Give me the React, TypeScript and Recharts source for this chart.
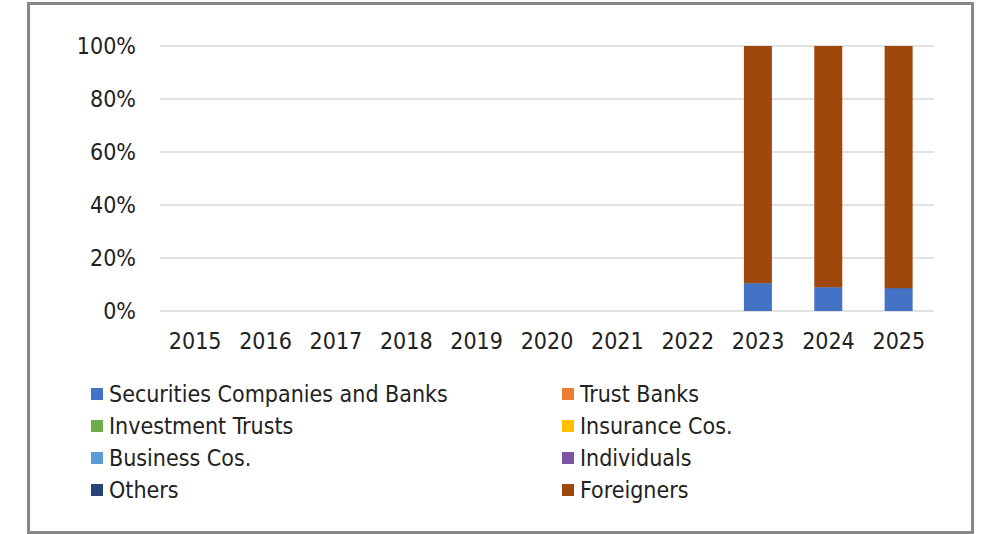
import { BarChart, Bar, XAxis, YAxis, CartesianGrid } from "recharts";

const years = ["2015", "2016", "2017", "2018", "2019", "2020", "2021", "2022", "2023", "2024", "2025"];

// share of each holder type (%), no data before 2023
const securities = [null, null, null, null, null, null, null, null, 10.5, 9.0, 8.4];
const trustBanks = [null, null, null, null, null, null, null, null, 0, 0, 0];
const investmentTrusts = [null, null, null, null, null, null, null, null, 0, 0, 0];
const insurance = [null, null, null, null, null, null, null, null, 0, 0, 0];
const business = [null, null, null, null, null, null, null, null, 0, 0, 0];
const individuals = [null, null, null, null, null, null, null, null, 0, 0, 0];
const others = [null, null, null, null, null, null, null, null, 0, 0, 0.3];
const foreigners = [null, null, null, null, null, null, null, null, 89.5, 91.0, 91.3];

const yTicks = [0, 20, 40, 60, 80, 100];

const series = [
  { key: "securities", name: "Securities Companies and Banks", color: "#4472C4", values: securities },
  { key: "trustBanks", name: "Trust Banks", color: "#ED7D31", values: trustBanks },
  { key: "investmentTrusts", name: "Investment Trusts", color: "#70AD47", values: investmentTrusts },
  { key: "insurance", name: "Insurance Cos.", color: "#FFC000", values: insurance },
  { key: "business", name: "Business Cos.", color: "#5B9BD5", values: business },
  { key: "individuals", name: "Individuals", color: "#7E55A5", values: individuals },
  { key: "others", name: "Others", color: "#264478", values: others },
  { key: "foreigners", name: "Foreigners", color: "#9E480E", values: foreigners },
];

const data = years.map((year, i) => {
  const row: Record<string, string | number | null> = { year };
  series.forEach((s) => {
    row[s.key] = s.values[i];
  });
  return row;
});

const font = "'DejaVu Sans Condensed', 'DejaVu Sans', sans-serif";
const textColor = "#222";

export default function App() {
  return (
    <div style={{ position: "absolute", left: 0, top: 0, width: 991, height: 534, background: "#fff", fontFamily: font }}>
      <div
        style={{
          position: "absolute",
          left: 27,
          top: 2,
          width: 947,
          height: 532,
          border: "3px solid #878787",
          boxSizing: "border-box",
        }}
      />
      <div style={{ position: "absolute", left: 0, top: 0 }}>
        <BarChart
          width={991}
          height={534}
          data={data}
          margin={{ top: 46, right: 57, bottom: 193, left: 0 }}
        >
          <CartesianGrid vertical={false} stroke="#D9D9D9" strokeWidth={1.5} />
          <XAxis
            dataKey="year"
            height={30}
            axisLine={false}
            tickLine={false}
            tickSize={0}
            tickMargin={22}
            tick={{ fill: textColor, fontSize: 23, fontFamily: font }}
            interval={0}
          />
          <YAxis
            width={160}
            domain={[0, 100]}
            ticks={yTicks}
            tickFormatter={(v: number) => `${v}%`}
            axisLine={false}
            tickLine={false}
            tickSize={0}
            tickMargin={24}
            tick={{ fill: textColor, fontSize: 23, fontFamily: font }}
          />
          {series.map((s) => (
            <Bar
              key={s.key}
              dataKey={s.key}
              name={s.name}
              stackId="a"
              fill={s.color}
              barSize={28}
              isAnimationActive={false}
            />
          ))}
        </BarChart>
      </div>
      {series.map((s, i) => {
        const col = i % 2;
        const row = Math.floor(i / 2);
        return (
          <div
            key={s.key}
            style={{
              position: "absolute",
              left: col === 0 ? 91 : 562,
              top: 394 + row * 32 - 15,
              height: 30,
              display: "flex",
              alignItems: "center",
              whiteSpace: "nowrap",
              fontSize: 23,
              color: textColor,
            }}
          >
            <span style={{ display: "inline-block", width: 12, height: 12, background: s.color, marginRight: 6 }} />
            <span>{s.name}</span>
          </div>
        );
      })}
    </div>
  );
}
